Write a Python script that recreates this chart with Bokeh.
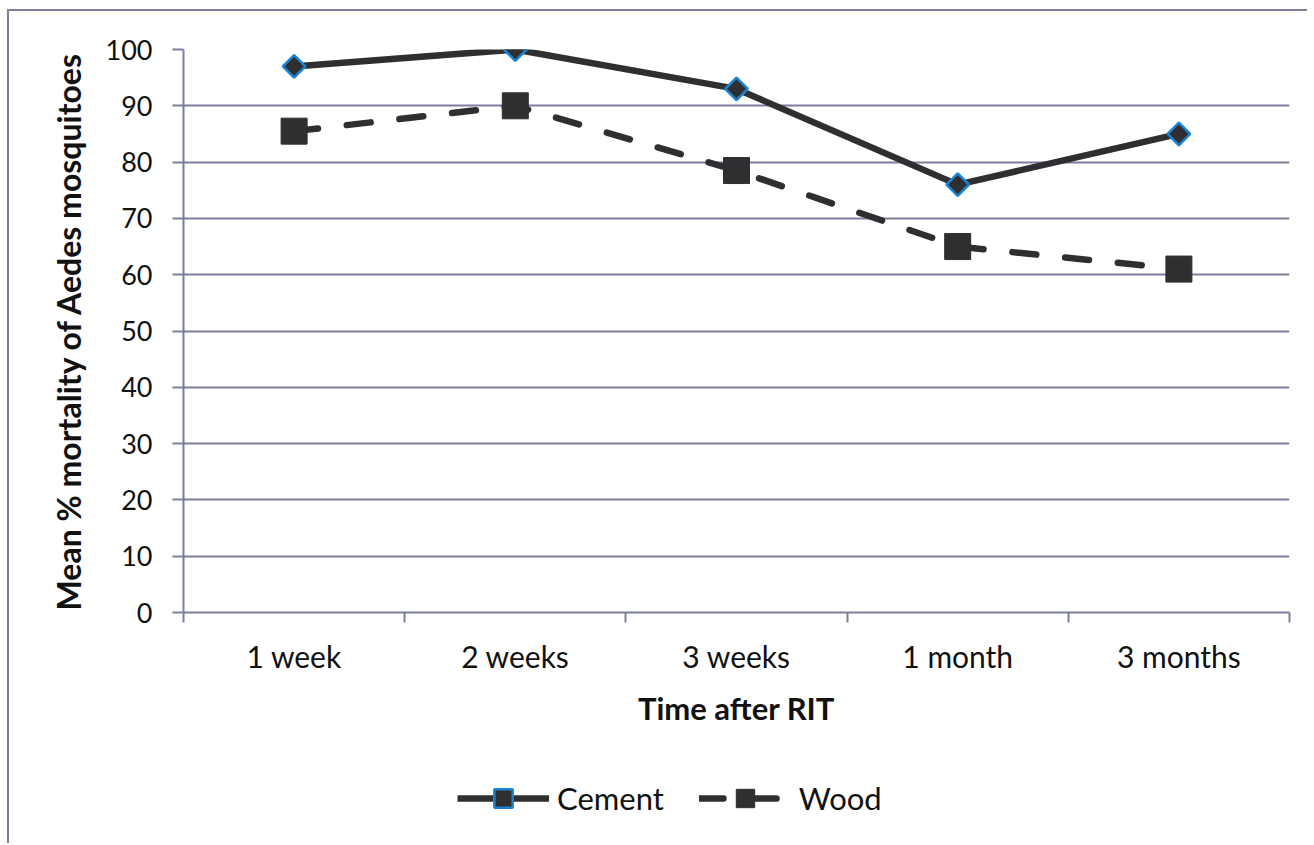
import math
from bokeh.plotting import figure
from bokeh.layouts import column, row
from bokeh.models import Range1d, FixedTicker, Legend, LegendItem, Spacer
from bokeh.embed import file_html
from bokeh.resources import INLINE

categories = ["1 week", "2 weeks", "3 weeks", "1 month", "3 months"]
cement = [97, 100, 93, 76, 85]
wood = [85.5, 90, 78.5, 65, 61]
y_ticks = [0, 10, 20, 30, 40, 50, 60, 70, 80, 90, 100]

xs = [i + 0.5 for i in range(len(categories))]
GRID = "#7c7f9b"
DARK = "#2f2f31"
BLUE = "#1a84d4"
FONT = "Lato"


def add_series(fig):
    l1 = fig.line(xs, cement, line_color=DARK, line_width=6.5, line_join="round")
    s1 = fig.scatter(xs, cement, marker="square", angle=math.pi / 4, size=16,
                     fill_color=DARK, line_color=BLUE, line_width=2.5)
    l2 = fig.line(xs, wood, line_color=DARK, line_width=6.5, line_dash="24 29", line_cap="round")
    s2 = fig.scatter(xs, wood, marker="square", size=26, fill_color=DARK, line_color=DARK, line_width=1)
    return l1, s1, l2, s2


p = figure(width=1300, height=740, output_backend="svg", toolbar_location=None,
           x_range=Range1d(0, len(categories)), y_range=Range1d(0, 100),
           min_border_left=174, min_border_top=38, min_border_right=20, min_border_bottom=139)
p.styles = {"border-left": "2px solid #7c7f9b", "border-top": "2px solid #7c7f9b"}
p.outline_line_color = None
p.background_fill_color = "white"
p.border_fill_color = "white"

# axes
p.xaxis.ticker = FixedTicker(ticks=xs, minor_ticks=list(range(len(categories) + 1)))
p.xaxis.major_label_overrides = {x: c for x, c in zip(xs, categories)}
p.xaxis.major_tick_out = 0
p.xaxis.major_tick_in = 0
p.xaxis.minor_tick_out = 10
p.xaxis.minor_tick_in = 0
p.xaxis.minor_tick_line_color = GRID
p.xaxis.minor_tick_line_width = 2
p.xaxis.axis_line_color = GRID
p.xaxis.axis_line_width = 2
p.xaxis.major_label_text_font = FONT
p.xaxis.major_label_text_font_size = "30px"
p.xaxis.major_label_text_color = "#111111"
p.xaxis.major_label_standoff = 15
p.xaxis.axis_label = "Time after RIT"
p.xaxis.axis_label_text_font = FONT
p.xaxis.axis_label_text_font_style = "bold"
p.xaxis.axis_label_text_font_size = "31px"
p.xaxis.axis_label_text_color = "#111111"
p.xaxis.axis_label_standoff = 12

p.yaxis.ticker = FixedTicker(ticks=y_ticks)
p.yaxis.major_tick_out = 11
p.yaxis.major_tick_in = 0
p.yaxis.major_tick_line_color = GRID
p.yaxis.major_tick_line_width = 2
p.yaxis.minor_tick_line_color = None
p.yaxis.axis_line_color = GRID
p.yaxis.axis_line_width = 2
p.yaxis.major_label_text_font = FONT
p.yaxis.major_label_text_font_size = "27px"
p.yaxis.major_label_text_color = "#111111"
p.yaxis.major_label_standoff = 20
p.yaxis.axis_label = "Mean % mortality of Aedes mosquitoes"
p.yaxis.axis_label_text_font = FONT
p.yaxis.axis_label_text_font_style = "bold"
p.yaxis.axis_label_text_font_size = "32px"
p.yaxis.axis_label_text_color = "#111111"
p.yaxis.axis_label_standoff = 15

p.xgrid.grid_line_color = None
p.ygrid.ticker = FixedTicker(ticks=y_ticks)
p.ygrid.grid_line_color = GRID
p.ygrid.grid_line_width = 2

add_series(p)

# legend strip below the chart; its series lie outside its (empty) view
pl = figure(width=1300, height=94, output_backend="svg", toolbar_location=None,
            x_axis_type=None, y_axis_type=None,
            x_range=Range1d(0, 1), y_range=Range1d(0, 1),
            min_border_left=0, min_border_right=0, min_border_top=0, min_border_bottom=0)
pl.styles = {"border-left": "2px solid #7c7f9b"}
pl.outline_line_color = None
pl.grid.grid_line_color = None
ll1, ls1, ll2, ls2 = add_series(pl)

legend = Legend(items=[LegendItem(label="Cement", renderers=[ll1, ls1]),
                       LegendItem(label="Wood", renderers=[ll2, ls2])],
                orientation="horizontal", location=(274, 22),
                padding=0, margin=0, spacing=35, label_standoff=8,
                glyph_width=92, glyph_height=46,
                label_text_font=FONT, label_text_font_size="31px", label_text_color="#111111",
                border_line_color=None, background_fill_alpha=0)
pl.add_layout(legend, "center")

layout = column(Spacer(height=9), row(Spacer(width=7), column(p, pl)))
open("out.html", "w").write(file_html(layout, INLINE))
